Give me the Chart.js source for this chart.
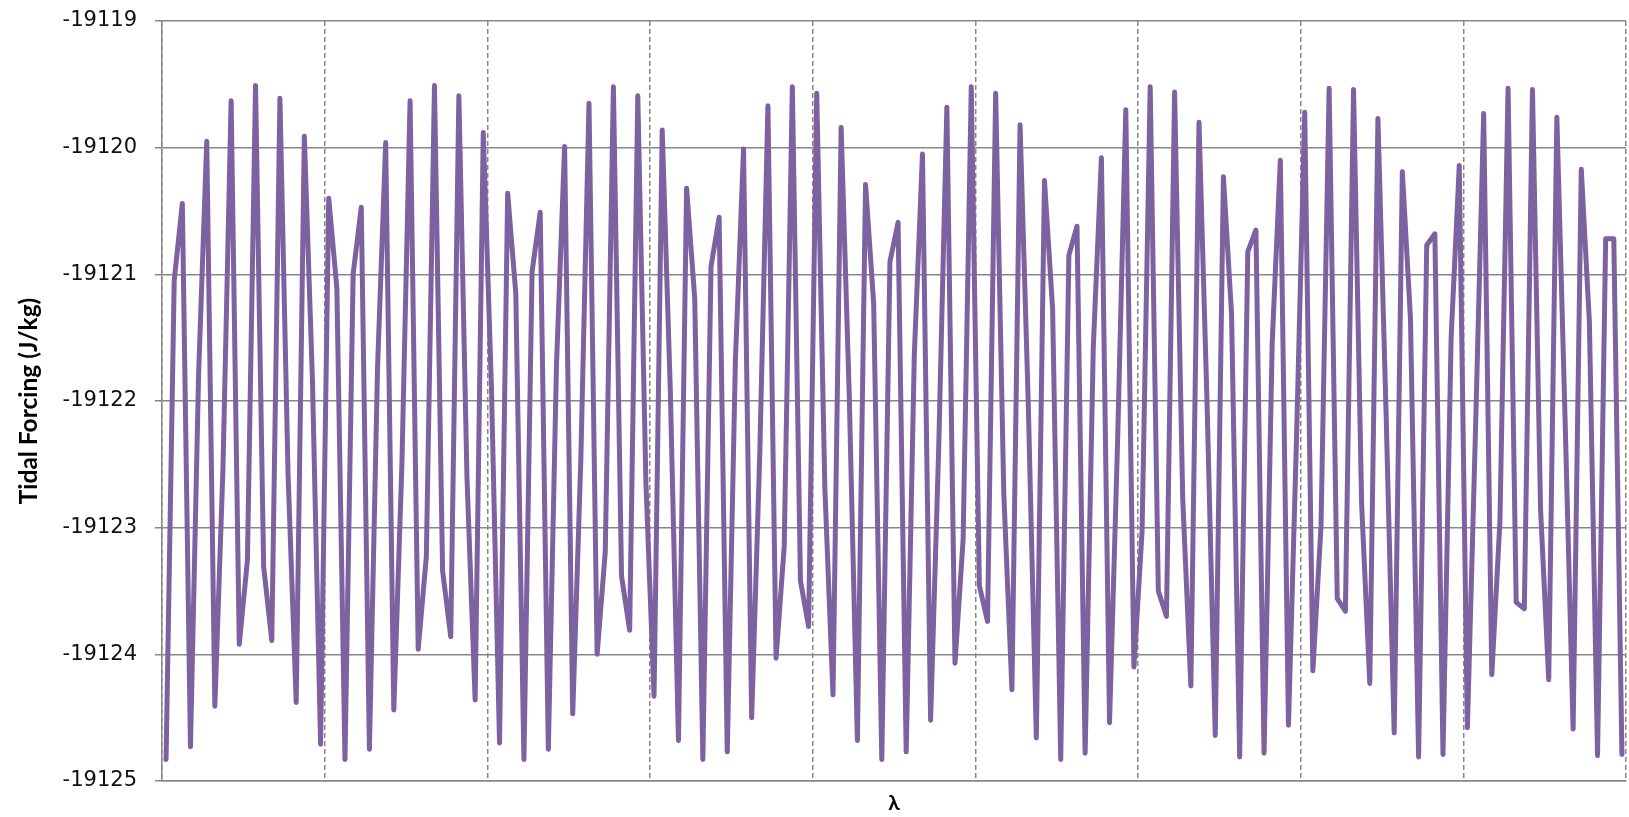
<!DOCTYPE html>
<html>
<head>
<meta charset="utf-8">
<script src="https://cdn.jsdelivr.net/npm/chart.js@4.4.1/dist/chart.umd.min.js"></script>
<style>
  html, body { margin: 0; padding: 0; background: #fff; }
  #wrap { width: 1629px; height: 817px; }
</style>
</head>
<body>
<div id="wrap"><canvas id="tidal-chart" width="1629" height="817"></canvas></div>
<script>
// values, one row per repeat of the pattern (22 samples)
const tidalForcing = [
  -19124.83, -19121.05, -19120.44, -19124.73, -19121.79, -19119.95, -19124.41, -19122.52, -19119.63, -19123.92, -19123.26,
  -19119.51, -19123.31, -19123.89, -19119.61, -19122.58, -19124.38, -19119.91, -19121.84, -19124.71, -19120.40, -19121.11,
  -19124.83, -19121.00, -19120.47, -19124.75, -19121.74, -19119.96, -19124.44, -19122.49, -19119.63, -19123.96, -19123.23,
  -19119.51, -19123.34, -19123.86, -19119.59, -19122.61, -19124.36, -19119.88, -19121.88, -19124.70, -19120.36, -19121.15,
  -19124.83, -19120.98, -19120.51, -19124.75, -19121.72, -19119.99, -19124.47, -19122.45, -19119.65, -19124.00, -19123.19,
  -19119.52, -19123.38, -19123.81, -19119.59, -19122.65, -19124.33, -19119.86, -19121.92, -19124.68, -19120.32, -19121.19,
  -19124.83, -19120.94, -19120.55, -19124.77, -19121.68, -19120.01, -19124.50, -19122.41, -19119.67, -19124.03, -19123.15,
  -19119.52, -19123.42, -19123.78, -19119.57, -19122.69, -19124.32, -19119.84, -19121.96, -19124.68, -19120.29, -19121.23,
  -19124.83, -19120.90, -19120.59, -19124.77, -19121.63, -19120.05, -19124.52, -19122.36, -19119.68, -19124.07, -19123.09,
  -19119.52, -19123.46, -19123.74, -19119.57, -19122.73, -19124.28, -19119.82, -19122.00, -19124.66, -19120.26, -19121.27,
  -19124.83, -19120.85, -19120.62, -19124.78, -19121.58, -19120.08, -19124.54, -19122.30, -19119.70, -19124.10, -19123.03,
  -19119.52, -19123.50, -19123.70, -19119.56, -19122.77, -19124.25, -19119.80, -19122.04, -19124.64, -19120.23, -19121.31,
  -19124.81, -19120.82, -19120.65, -19124.78, -19121.54, -19120.10, -19124.56, -19122.27, -19119.72, -19124.13, -19122.99,
  -19119.53, -19123.56, -19123.66, -19119.54, -19122.82, -19124.23, -19119.77, -19122.09, -19124.62, -19120.19, -19121.35,
  -19124.81, -19120.77, -19120.68, -19124.79, -19121.50, -19120.14, -19124.58, -19122.22, -19119.73, -19124.16, -19122.95,
  -19119.53, -19123.59, -19123.64, -19119.54, -19122.86, -19124.20, -19119.76, -19122.12, -19124.59, -19120.17, -19121.38,
  -19124.80, -19120.72, -19120.72, -19124.79, -19121.45
];
const yTicks = [-19125, -19124, -19123, -19122, -19121, -19120, -19119];
const categories = tidalForcing.map((v, i) => String(i + 1));

// the last sample sits just past the right edge, like in the original
const lastShown = categories[179];
const gridEvery = 20;
const gridGray = "#878787";

new Chart(document.getElementById("tidal-chart"), {
  type: "line",
  data: {
    labels: categories,
    datasets: [
      {
        data: tidalForcing,
        borderColor: "#7d61a0",
        borderWidth: 5,
        pointRadius: 0,
        tension: 0,
        borderJoinStyle: "round",
        borderCapStyle: "round",
        clip: false,
      },
    ],
  },
  options: {
    responsive: false,
    animation: false,
    events: [],
    layout: { padding: { top: 21, right: 3, bottom: 0, left: 0 } },
    plugins: {
      legend: { display: false },
      tooltip: { enabled: false },
    },
    scales: {
      x: {
        offset: true,
        max: lastShown,
        grid: {
          offset: true,
          drawTicks: false,
          lineWidth: 1.5,
          color: (ctx) =>
            ctx.type !== "tick" || ctx.index % gridEvery === 0 ? gridGray : "rgba(0,0,0,0)",
        },
        border: { color: gridGray, width: 1.5, dash: [5, 3] },
        ticks: { display: false },
        title: {
          display: true,
          text: "λ",
          color: "#000",
          font: { family: "Lato", size: 21, weight: "bold" },
          padding: { top: 0, bottom: 1 },
        },
        afterFit: (scale) => {
          scale.height = 36;
        },
      },
      y: {
        min: yTicks[0],
        max: yTicks[yTicks.length - 1],
        afterBuildTicks: (scale) => {
          scale.ticks = yTicks.map((v) => ({ value: v }));
        },
        ticks: {
          callback: (v) => String(v),
          color: "#111",
          font: { family: "DejaVu Sans", size: 21 },
          padding: 18,
        },
        grid: { color: gridGray, lineWidth: 1.5, tickLength: 7 },
        border: { color: gridGray, width: 1.5 },
        title: {
          display: true,
          text: "Tidal Forcing (J/kg)",
          color: "#000",
          font: { family: "Lato", size: 24.5, weight: "bold" },
          padding: { top: 14, bottom: 0 },
        },
        afterFit: (scale) => {
          scale.width = 162;
          // tick padding would otherwise push the plot top down
          scale.paddingTop = 0;
          scale.paddingBottom = 0;
        },
      },
    },
  },
});
</script>
</body>
</html>
